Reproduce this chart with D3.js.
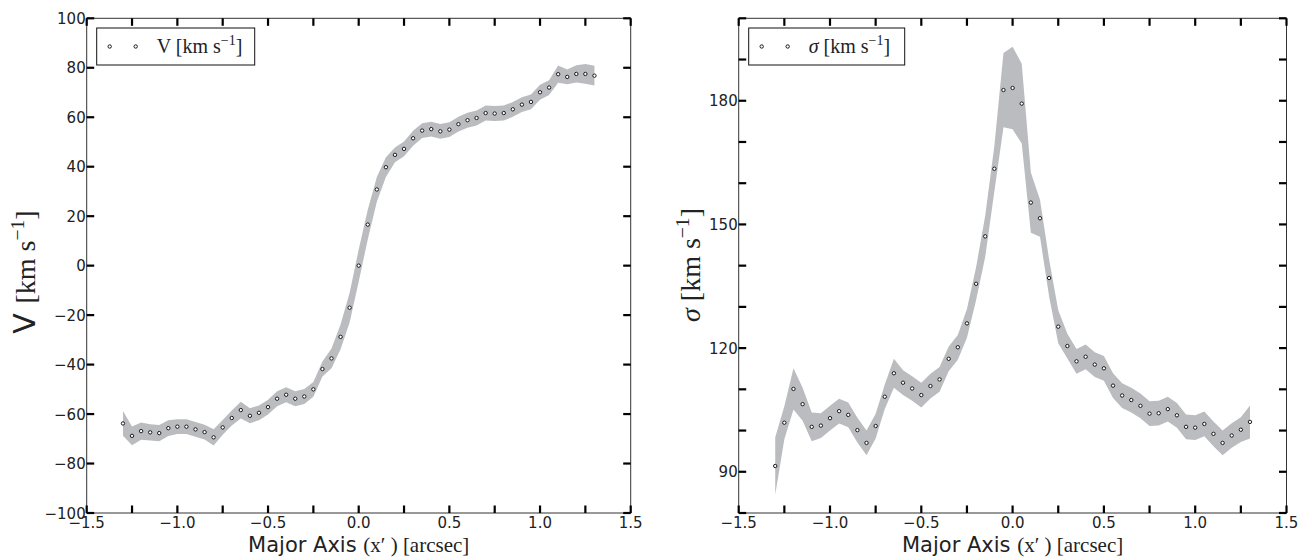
<!DOCTYPE html>
<html>
<head>
<meta charset="utf-8">
<script src="https://cdn.jsdelivr.net/npm/d3@7"></script>
<style>
  body { margin: 0; background: #fff; }
  svg text { fill: #222; }
</style>
</head>
<body>
<svg id="chart" width="1312" height="560"></svg>
<script>
// positions along the major axis (arcsec)
const xPos = [-1.30, -1.25, -1.20, -1.15, -1.10, -1.05, -1.00, -0.95, -0.90, -0.85, -0.80, -0.75, -0.70,
  -0.65, -0.60, -0.55, -0.50, -0.45, -0.40, -0.35, -0.30, -0.25, -0.20, -0.15, -0.10, -0.05, 0.00,
  0.05, 0.10, 0.15, 0.20, 0.25, 0.30, 0.35, 0.40, 0.45, 0.50, 0.55, 0.60, 0.65, 0.70, 0.75, 0.80,
  0.85, 0.90, 0.95, 1.00, 1.05, 1.10, 1.15, 1.20, 1.25, 1.30]

// rotation velocity and its error
const velocity = [-63.8, -68.8, -66.9, -67.4, -67.7, -65.7, -65.1, -65.1, -66.2, -67.3, -69.4, -65.4, -61.6,
  -58.4, -60.7, -59.5, -57.2, -53.8, -52.2, -53.8, -52.9, -50.0, -41.8, -37.5, -28.8, -17.0, 0.0,
  16.6, 30.8, 39.8, 44.8, 47.2, 51.5, 54.6, 55.2, 54.3, 55.0, 57.2, 58.8, 59.7, 61.7, 61.5, 61.7,
  63.2, 65.1, 66.2, 70.1, 72.0, 77.4, 76.3, 77.5, 77.5, 76.8]
const velocityErr = [5.0, 3.8, 3.5, 3.3, 3.3, 3.2, 3.0, 3.0, 3.0, 3.0, 3.3, 3.0, 3.0,
  3.4, 3.0, 3.0, 3.0, 3.0, 3.0, 3.0, 3.0, 3.0, 3.0, 4.0, 5.0, 6.0, 6.5,
  6.0, 5.0, 4.0, 3.0, 3.0, 3.0, 3.0, 3.0, 3.0, 3.0, 3.0, 3.0, 3.0, 3.0, 3.0, 3.0,
  3.0, 3.0, 3.0, 3.0, 3.0, 3.5, 3.0, 3.5, 4.0, 4.0]

// velocity dispersion and its error
const sigma = [91.4, 101.9, 110.1, 106.4, 100.9, 101.2, 103.0, 104.7, 103.8, 100.1, 97.0, 101.1, 108.2,
  113.9, 111.6, 110.2, 108.6, 110.8, 112.4, 117.4, 120.2, 126.0, 135.6, 147.1, 163.5, 182.6, 183.1,
  179.3, 155.3, 151.5, 137.0, 125.2, 120.5, 116.8, 117.9, 116.0, 115.1, 110.9, 108.5, 107.4, 106.0, 104.1, 104.2,
  105.2, 103.7, 100.9, 100.7, 101.6, 99.2, 97.0, 98.8, 100.2, 102.1]
const sigmaErr = [7.0, 4.0, 5.0, 4.0, 3.5, 3.0, 3.0, 3.0, 3.0, 3.0, 3.0, 3.0, 3.0,
  3.5, 3.0, 3.0, 3.0, 3.0, 3.0, 3.0, 3.0, 3.5, 4.0, 5.0, 5.5, 9.0, 10.0,
  9.7, 7.3, 4.5, 4.5, 4.0, 3.0, 3.0, 3.0, 3.0, 3.0, 3.0, 3.0, 3.0, 3.0, 3.0, 3.0,
  3.0, 3.0, 3.0, 3.0, 3.0, 3.0, 3.0, 3.0, 3.0, 4.0]

// ticks
const xTicks = [-1.5, -1.25, -1.0, -0.75, -0.5, -0.25, 0.0, 0.25, 0.5, 0.75, 1.0, 1.25, 1.5]
const xLabels = [-1.5, -1.0, -0.5, 0.0, 0.5, 1.0, 1.5]
const vTicks = [-100, -80, -60, -40, -20, 0, 20, 40, 60, 80, 100]
const sTicks = [80, 90, 100, 110, 120, 130, 140, 150, 160, 170, 180, 190, 200]
const sLabels = [90, 120, 150, 180]

const svg = d3.select('#chart')
const SANS = 'DejaVu Sans'
const SERIF = 'Liberation Serif'
const fmt = d => d3.format('.1f')(d).replace('-', '\u2212')
const fmtInt = d => String(d).replace('-', '\u2212')

function unitText (sel, size) {
  sel.append('tspan').attr('font-family', SERIF).text('[km s')
  sel.append('tspan').attr('font-family', SERIF).attr('font-size', size * 0.7)
    .attr('dy', -size * 0.38).text('\u22121')
  sel.append('tspan').attr('font-family', SERIF).attr('dy', size * 0.38).text(']')
}

function drawPanel (o) {
  const g = svg.append('g')
  const x = d3.scaleLinear().domain([-1.5, 1.5]).range([o.left, o.right])
  const y = d3.scaleLinear().domain(o.domain).range([o.bottom, o.top])
  const rows = xPos.map((xv, i) => ({ x: xv, y: o.values[i], e: o.errors[i] }))

  // error band
  const area = d3.area()
    .x(d => x(d.x))
    .y0(d => y(d.y - d.e))
    .y1(d => y(d.y + d.e))
  g.append('path').datum(rows)
    .attr('d', area)
    .attr('fill', '#bbbcbf')

  // points
  g.selectAll('circle.pt').data(rows).enter().append('circle')
    .attr('class', 'pt')
    .attr('cx', d => x(d.x))
    .attr('cy', d => y(d.y))
    .attr('r', 1.7)
    .attr('fill', '#fff')
    .attr('stroke', '#1a1a1a')
    .attr('stroke-width', 1)

  // frame
  g.append('rect')
    .attr('x', o.left).attr('y', o.top)
    .attr('width', o.right - o.left).attr('height', o.bottom - o.top)
    .attr('fill', 'none').attr('stroke', '#333').attr('stroke-width', 1)

  const tl = 7.5
  // x ticks, bottom and top, pointing inward
  g.selectAll('line.xb').data(xTicks).enter().append('line')
    .attr('x1', d => x(d)).attr('x2', d => x(d))
    .attr('y1', o.bottom).attr('y2', o.bottom - tl)
    .attr('stroke', '#000').attr('stroke-width', 2.2)
  g.selectAll('line.xt').data(xTicks).enter().append('line')
    .attr('x1', d => x(d)).attr('x2', d => x(d))
    .attr('y1', o.top).attr('y2', o.top + tl)
    .attr('stroke', '#000').attr('stroke-width', 2.2)
  // y ticks, left and right, pointing inward
  g.selectAll('line.yl').data(o.ticks).enter().append('line')
    .attr('x1', o.left).attr('x2', o.left + tl)
    .attr('y1', d => y(d)).attr('y2', d => y(d))
    .attr('stroke', '#000').attr('stroke-width', 2.2)
  g.selectAll('line.yr').data(o.ticks).enter().append('line')
    .attr('x1', o.right).attr('x2', o.right - tl)
    .attr('y1', d => y(d)).attr('y2', d => y(d))
    .attr('stroke', '#000').attr('stroke-width', 2.2)

  // tick labels
  g.selectAll('text.xl').data(xLabels).enter().append('text')
    .attr('x', d => x(d)).attr('y', o.bottom + 15)
    .attr('text-anchor', 'middle')
    .attr('font-family', SANS).attr('font-size', 15)
    .text(fmt)
  g.selectAll('text.yl').data(o.labels).enter().append('text')
    .attr('x', o.left - 1).attr('y', d => y(d) + 5.5)
    .attr('text-anchor', 'end')
    .attr('font-family', SANS).attr('font-size', 15)
    .text(fmtInt)

  // x axis title
  const xt = g.append('text')
    .attr('x', (o.left + o.right) / 2).attr('y', o.bottom + 39)
    .attr('text-anchor', 'middle').attr('font-size', 21)
  xt.append('tspan').attr('font-family', SANS).text('Major Axis ')
  xt.append('tspan').attr('font-family', SERIF).text('(x\u2032 ) [arcsec]')

  // y axis title
  const yt = g.append('text')
    .attr('transform', `translate(${o.ylabelX},${o.ylabelY}) rotate(-90)`)
    .attr('text-anchor', 'middle').attr('font-size', 28)
  if (o.symbol === 'V') {
    yt.append('tspan').attr('font-family', SANS).attr('font-size', 30).text('V ')
  } else {
    yt.append('tspan').attr('font-family', SERIF).attr('font-style', 'italic').text('\u03c3 ')
  }
  unitText(yt, 28)

  // legend
  const lx = o.left + 10
  const lg = g.append('g')
  lg.append('rect')
    .attr('x', lx).attr('y', 28).attr('width', o.legendW).attr('height', 37)
    .attr('fill', '#fff').attr('stroke', '#111').attr('stroke-width', 1)
  lg.selectAll('circle').data([13, 39]).enter().append('circle')
    .attr('cx', d => lx + d).attr('cy', 46.5).attr('r', 1.7)
    .attr('fill', '#fff').attr('stroke', '#1a1a1a').attr('stroke-width', 1)
  const lt = lg.append('text')
    .attr('x', lx + 60).attr('y', 53).attr('font-size', 20)
  if (o.symbol === 'V') {
    lt.append('tspan').attr('font-family', SERIF).text('V ')
  } else {
    lt.append('tspan').attr('font-family', SERIF).attr('font-style', 'italic').text('\u03c3 ')
  }
  unitText(lt, 20)
}

drawPanel({
  left: 86.7, right: 630.7, top: 18.3, bottom: 513,
  domain: [-100, 100], values: velocity, errors: velocityErr,
  ticks: vTicks, labels: vTicks, symbol: 'V',
  ylabelX: 35, ylabelY: 272, legendW: 158
})

drawPanel({
  left: 738.7, right: 1286.5, top: 18.3, bottom: 513,
  domain: [80, 200], values: sigma, errors: sigmaErr,
  ticks: sTicks, labels: sLabels, symbol: 's',
  ylabelX: 700, ylabelY: 265, legendW: 156
})
</script>
</body>
</html>
